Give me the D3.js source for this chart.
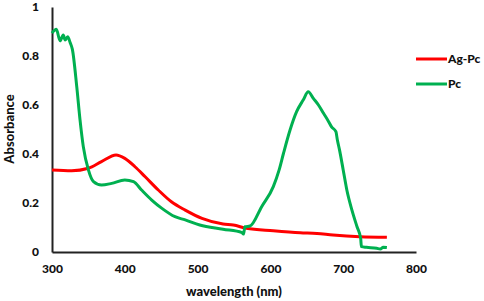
<!DOCTYPE html>
<html>
<head>
<meta charset="utf-8">
<script src="https://cdn.jsdelivr.net/npm/d3@7"></script>
<style>
  body { margin: 0; background: #fff; }
  text { font-family: Lato, "Open Sans", sans-serif; font-weight: 900; fill: #111; }
</style>
</head>
<body>
<div id="chart"></div>
<script>
const width = 484, height = 301;
const margin = {left: 52, right: 68, top: 7, bottom: 49};

const xTicks = [300, 400, 500, 600, 700, 800];
const yTicks = [0, 0.2, 0.4, 0.6, 0.8, 1];
const seriesNames = ["Ag-Pc", "Pc"];
const seriesColors = ["#ff0000", "#00b050"];

// [wavelength, absorbance]
const agPc = [
    [300, 0.335], [327, 0.332], [350, 0.342], [368, 0.369], [388, 0.396], [400, 0.382],
    [414, 0.348], [428, 0.307], [446, 0.253], [464, 0.205], [483, 0.171], [506, 0.137],
    [535, 0.114], [549, 0.110], [567, 0.097], [604, 0.087], [641, 0.079], [664, 0.076],
    [686, 0.069], [723, 0.062], [760, 0.060]
];
const pc = [
    [300, 0.893], [306, 0.909], [311, 0.862], [315.5, 0.886], [318, 0.865], [321.5, 0.879],
    [325, 0.854], [328, 0.827], [334, 0.675], [338.5, 0.539], [343, 0.43], [350, 0.335],
    [357, 0.287], [368, 0.273], [382, 0.28], [400, 0.294], [412, 0.287], [423, 0.253],
    [437, 0.212], [451, 0.178], [469, 0.144], [483, 0.131], [503, 0.110], [535, 0.093],
    [561, 0.079], [563, 0.073], [565, 0.103], [572, 0.106], [588, 0.185], [604, 0.267],
    [612, 0.335], [618, 0.403], [627, 0.498], [636, 0.573], [645, 0.620], [652, 0.654],
    [659, 0.627], [666, 0.600], [673, 0.566], [680, 0.532], [684, 0.511], [690, 0.491],
    [692, 0.457], [695, 0.416], [700, 0.335], [705, 0.253], [712, 0.171], [719, 0.103],
    [724, 0.056], [725, 0.022], [732, 0.019], [746, 0.015], [751, 0.012], [755, 0.019],
    [760, 0.018]
];

const svg = d3.select("#chart")
    .append("svg")
    .attr("width", width)
    .attr("height", height);

const xScale = d3.scaleLinear()
    .domain([300, 800])
    .range([margin.left, width - margin.right]);
const yScale = d3.scaleLinear()
    .domain([0, 1])
    .range([height - margin.bottom, margin.top]);

// axes
const xAxis = d3.axisBottom(xScale)
    .tickValues(xTicks)
    .tickSize(0)
    .tickPadding(12)
    .tickFormat(d3.format("d"));
const yAxis = d3.axisLeft(yScale)
    .tickValues(yTicks)
    .tickSize(0)
    .tickPadding(13)
    .tickFormat(d => d === 0 || d === 1 ? d : d3.format(".1f")(d));

const gx = svg.append("g")
    .attr("transform", "translate(0," + yScale(0) + ")")
    .call(xAxis);
gx.select(".domain").attr("stroke", "#222").attr("stroke-width", 2);
gx.selectAll("text").attr("font-size", 12).style("font-family", "Lato, sans-serif");

const gy = svg.append("g")
    .attr("transform", "translate(" + xScale(300) + ",0)")
    .call(yAxis);
gy.select(".domain").attr("stroke", "#222").attr("stroke-width", 2);
gy.selectAll("text").attr("font-size", 12).style("font-family", "Lato, sans-serif");

svg.append("text")
    .attr("x", 234)
    .attr("y", 296)
    .attr("text-anchor", "middle")
    .attr("font-size", 13)
    .text("wavelength (nm)");

svg.append("text")
    .attr("transform", "translate(14,129) rotate(-90)")
    .attr("text-anchor", "middle")
    .attr("font-size", 13)
    .text("Absorbance");

// lines
const line = d3.line()
    .curve(d3.curveMonotoneX)
    .x(d => xScale(d[0]))
    .y(d => yScale(d[1]));

[agPc, pc].forEach((data, i) => {
    svg.append("path")
        .datum(data)
        .attr("fill", "none")
        .attr("stroke", seriesColors[i])
        .attr("stroke-width", 3)
        .attr("stroke-linejoin", "round")
        .attr("d", line);
});

// legend
const legend = svg.append("g").attr("transform", "translate(416,59)");
seriesNames.forEach((name, i) => {
    const g = legend.append("g").attr("transform", "translate(0," + i * 25 + ")");
    g.append("line")
        .attr("x1", 0).attr("x2", 31)
        .attr("stroke", seriesColors[i])
        .attr("stroke-width", 3);
    g.append("text")
        .attr("x", 32)
        .attr("dy", "0.35em")
        .attr("font-size", 12)
        .text(name);
});
</script>
</body>
</html>
